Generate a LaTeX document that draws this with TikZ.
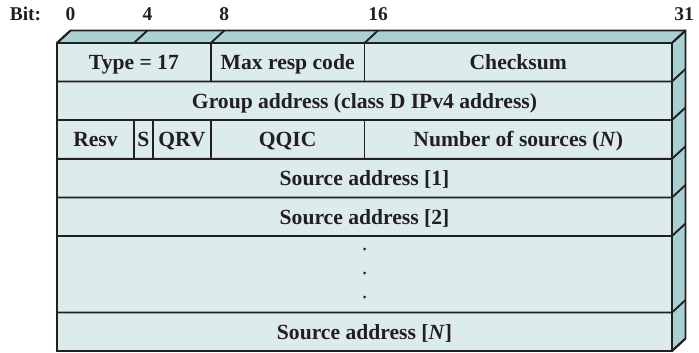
\documentclass[tikz,border=0pt]{standalone}
\usepackage{fontspec}
\setmainfont{Liberation Serif}
\definecolor{frontc}{HTML}{DCEBEB}
\definecolor{sidec}{HTML}{A9D1D2}
\definecolor{linec}{HTML}{231F20}
\tikzset{
  lbl/.style={anchor=base, inner sep=0pt, font=\fontsize{21.6}{25}\selectfont\bfseries, text=linec},
  bitlbl/.style={anchor=base, inner sep=0pt, font=\fontsize{19.5}{22}\selectfont\bfseries, text=linec},
  edge/.style={draw=linec, line width=1.9pt, line join=miter},
}
\begin{document}
\begin{tikzpicture}[x=1pt,y=-1pt]
\useasboundingbox (0,0) rectangle (699,353);
% geometry
\def\xl{57}\def\xr{672}\def\dx{13.5}\def\dy{12.5}
\def\ba{133.9}\def\bb{153.1}\def\bc{210.8}\def\bd{364.5}
% faces
\fill[frontc] (\xl,43) rectangle (\xr,351);
\fill[sidec] (\xl,43) -- ++(\dx,-\dy) -- (\xr+\dx,43-\dy) -- (\xr,43) -- cycle;
\fill[sidec] (\xr,43) -- (\xr+\dx,43-\dy) -- (\xr+\dx,351-\dy) -- (\xr,351) -- cycle;
% outline of box
\draw[edge] (\xl,351) -- (\xl,43) -- ++(\dx,-\dy) -- (\xr+\dx,43-\dy) -- (\xr+\dx,351-\dy) -- (\xr,351) -- cycle;
\draw[edge] (\xr,43) -- (\xr,351);
% top face dividers
\foreach \x in {\xl,\ba,\bc,\bd,\xr} \draw[edge] (\x,43) -- ++(\dx,-\dy);
% row lines with right-face diagonals
\foreach \y in {43,81.5,120,158.8,197.5,236,312.5,351} {
  \draw[edge] (\xl,\y) -- (\xr,\y) -- ++(\dx,-\dy);
}
% vertical dividers
\draw[edge] (\bc,43) -- (\bc,81.5);
\draw[edge] (\bd,43) -- (\bd,81.5);
\foreach \x in {\ba,\bb,\bc,\bd} \draw[edge] (\x,120) -- (\x,158.8);
% bit labels
\node[bitlbl] (bit) at (25.5,21) {Bit:};
\node[bitlbl] (b0) at (70.5,21) {0};
\node[bitlbl] (b4) at (147.4,21) {4};
\node[bitlbl] (b8) at (224.3,21) {8};
\node[bitlbl] (b16) at (378,21) {16};
\node[bitlbl] (b31) at (684,21) {31};
% field labels
\node[lbl] (type) at ({(\xl+\bc)/2},69.5) {Type = 17};
\node[lbl] (mrc) at ({(\bc+\bd)/2},69.5) {Max resp code};
\node[lbl] (cks) at ({(\bd+\xr)/2},69.5) {Checksum};
\node[lbl] (grp) at ({(\xl+\xr)/2},108) {Group address (class D IPv4 address)};
\node[lbl] (resv) at ({(\xl+\ba)/2},146.6) {Resv};
\node[lbl] (s) at ({(\ba+\bb)/2},146.6) {S};
\node[lbl] (qrv) at ({(\bb+\bc)/2},146.6) {QRV};
\node[lbl] (qqic) at ({(\bc+\bd)/2},146.6) {QQIC};
\node[lbl] (nos) at ({(\bd+\xr)/2},146.6) {Number of sources (\textit{N})};
\node[lbl] (sa1) at ({(\xl+\xr)/2},185.3) {Source address [1]};
\node[lbl] (sa2) at ({(\xl+\xr)/2},224) {Source address [2]};
\node[lbl] (san) at ({(\xl+\xr)/2},339) {Source address [\textit{N}]};
% dots
\foreach \y in {249,273,297} \fill[linec] ({(\xl+\xr)/2},\y) circle (1.5);
\end{tikzpicture}
\end{document}
